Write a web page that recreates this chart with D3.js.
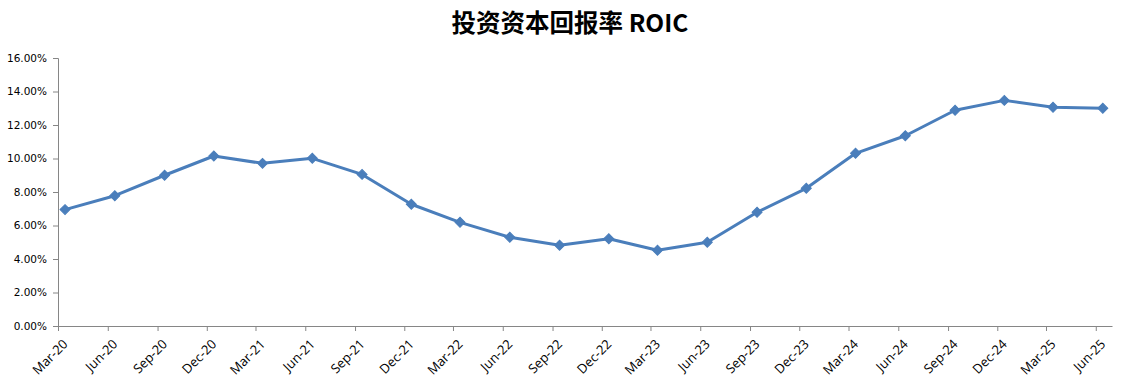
<!DOCTYPE html>
<html>
<head>
<meta charset="utf-8">
<script src="https://cdn.jsdelivr.net/npm/d3@7"></script>
<style>
  body { margin: 0; background: #fff; }
  .axis path, .axis line { stroke: #868686; }
  .axis text { fill: #000; }
</style>
</head>
<body>
<div id="chart"></div>
<script>
// Data
var quarters = ["Mar-20","Jun-20","Sep-20","Dec-20","Mar-21","Jun-21","Sep-21","Dec-21",
                "Mar-22","Jun-22","Sep-22","Dec-22","Mar-23","Jun-23","Sep-23","Dec-23",
                "Mar-24","Jun-24","Sep-24","Dec-24","Mar-25","Jun-25"];
var roic = [6.95, 7.78, 9.00, 10.15, 9.71, 10.01, 9.05, 7.27,
            6.19, 5.30, 4.82, 5.21, 4.52, 5.00, 6.79, 8.22,
            10.31, 11.36, 12.88, 13.47, 13.06, 13.00];
var yTicks = [0, 2, 4, 6, 8, 10, 12, 14, 16];

var svgWidth = 1135, svgHeight = 381;
var margin = { top: 58, right: 23, bottom: 55, left: 58 };
var width = svgWidth - margin.left - margin.right;
var height = svgHeight - margin.top - margin.bottom;

var svg = d3.select("#chart").append("svg")
    .attr("width", svgWidth)
    .attr("height", svgHeight);

var chartGroup = svg.append("g")
    .attr("transform", `translate(${margin.left}, ${margin.top})`);

var parseQ = d3.timeParse("%b-%y");
var tickDates = quarters.map(q => parseQ(q));
// points sit mid-month, tick labels on month start
var pointDates = tickDates.map(d => d3.timeDay.offset(d, 13));

var xScale = d3.scaleTime()
    .domain([tickDates[0], d3.timeMonth.offset(tickDates[tickDates.length - 1], 1)])
    .range([0, width]);

var yScale = d3.scaleLinear()
    .domain([0, 16])
    .range([height, 0]);

// Title
svg.append("text")
    .attr("x", 570)
    .attr("y", 32)
    .attr("text-anchor", "middle")
    .style("font-family", "'Noto Sans CJK SC', sans-serif")
    .style("font-weight", "bold")
    .style("font-size", "24.5px")
    .text("投资资本回报率 ROIC");

// Y axis
var leftAxis = d3.axisLeft(yScale)
    .tickValues(yTicks)
    .tickSize(5)
    .tickPadding(6)
    .tickFormat(d => d.toFixed(2) + "%");

chartGroup.append("g")
    .attr("class", "axis")
    .call(leftAxis)
    .selectAll("text")
    .style("font-family", "'DejaVu Sans', sans-serif")
    .style("font-size", "10.5px");

// X axis
var bottomAxis = d3.axisBottom(xScale)
    .tickValues(tickDates)
    .tickSize(5)
    .tickSizeOuter(0)
    .tickFormat((d, i) => quarters[i]);

var xg = chartGroup.append("g")
    .attr("class", "axis")
    .attr("transform", `translate(0, ${height})`)
    .call(bottomAxis);

xg.selectAll("text")
    .style("font-family", "'Open Sans', sans-serif")
    .style("font-size", "13px")
    .style("text-anchor", "end")
    .attr("x", 0)
    .attr("y", 0)
    .attr("dy", 0)
    .attr("transform", "translate(10, 19) rotate(-45)");

// Line
var line = d3.line()
    .x((d, i) => xScale(pointDates[i]))
    .y(d => yScale(d));

chartGroup.append("path")
    .datum(roic)
    .attr("fill", "none")
    .attr("stroke", "#4a7ebb")
    .attr("stroke-width", 3)
    .attr("stroke-linejoin", "round")
    .attr("d", line);

// Diamond markers (rotated squares)
var square = d3.symbol().type(d3.symbolSquare).size(50);
chartGroup.selectAll(".marker")
    .data(roic)
    .enter()
    .append("path")
    .attr("class", "marker")
    .attr("d", square)
    .attr("transform", (d, i) => `translate(${xScale(pointDates[i])}, ${yScale(d)}) rotate(45)`)
    .attr("fill", "#4a7ebb")
    .attr("stroke", "#4a7ebb")
    .attr("stroke-width", 1);
</script>
</body>
</html>
